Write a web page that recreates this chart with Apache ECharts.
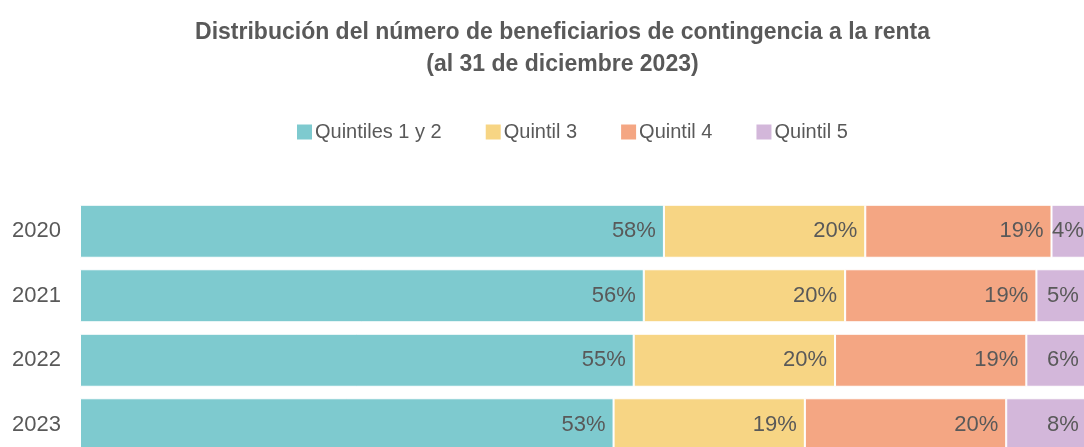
<!DOCTYPE html>
<html>
<head>
<meta charset="utf-8">
<script src="https://cdn.jsdelivr.net/npm/echarts@6/dist/echarts.min.js"></script>
<style>
  html, body { margin: 0; padding: 0; overflow: hidden; background: #fff; }
  #main { width: 1125px; height: 460px; }
</style>
</head>
<body>
<div id="main"></div>
<script>
// datos (porcentajes)
const years = ['2020', '2021', '2022', '2023'];
const q12 = [58, 56, 55, 53];
const q3 = [20, 20, 20, 19];
const q4 = [18.5, 19, 19, 20];
const q5 = [4, 5, 6, 8];

const names = ['Quintiles 1 y 2', 'Quintil 3', 'Quintil 4', 'Quintil 5'];
const colors = ['#7ecacf', '#f7d584', '#f4a683', '#d3b7da'];
const values = [q12, q3, q4, q5];

var myChart = echarts.init(document.getElementById('main'));

var option = {
  animation: false,
  color: colors,
  textStyle: { fontFamily: 'Liberation Sans' },
  title: {
    text: 'Distribución del número de beneficiarios de contingencia a la renta\n(al 31 de diciembre 2023)',
    left: 'center',
    top: 12,
    textStyle: { fontSize: 23, fontWeight: 'bold', color: '#595959', lineHeight: 32 }
  },
  legend: {
    top: 117,
    left: 290,
    itemWidth: 17,
    itemHeight: 17,
    itemGap: 42,
    icon: 'rect',
    textStyle: { fontSize: 20, color: '#595959', padding: [0, 0, 0, -3] },
    data: names
  },
  grid: { left: 80, right: 0, top: 199, height: 258 },
  xAxis: { type: 'value', min: 0, max: 103.8, show: false },
  yAxis: {
    type: 'category',
    data: years,
    inverse: true,
    axisLine: { show: false },
    axisTick: { show: false },
    axisLabel: { fontSize: 22, color: '#595959', margin: 19 }
  },
  series: names.map(function (n, i) {
    return {
      name: n,
      type: 'bar',
      stack: 'total',
      barWidth: 53,
      clip: false,
      data: values[i],
      itemStyle: { borderColor: '#fff', borderWidth: 1 },
      label: {
        show: true,
        position: 'insideRight',
        distance: 8,
        fontSize: 22,
        color: '#595959',
        formatter: function (p) { return Math.round(p.value) + '%'; }
      }
    };
  })
};

myChart.setOption(option);
</script>
</body>
</html>
